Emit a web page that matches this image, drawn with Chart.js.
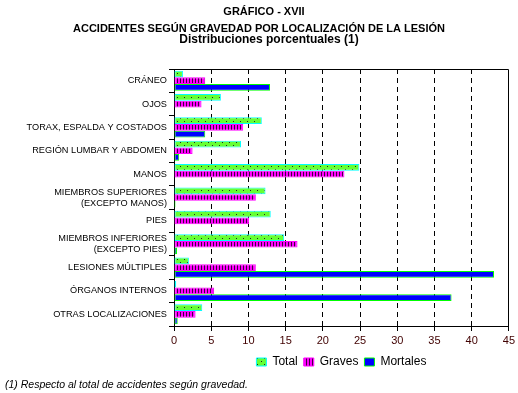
<!DOCTYPE html>
<html>
<head>
<meta charset="utf-8">
<script src="https://cdn.jsdelivr.net/npm/chart.js@4/dist/chart.umd.min.js"></script>
<style>
  html, body { margin: 0; padding: 0; background: #fff; }
  #wrap { width: 518px; height: 393px; }
</style>
</head>
<body>
<div id="wrap"><canvas id="chart" width="518" height="393"></canvas></div>
<script>
// --- data ---
const categories = [
  'CRÁNEO',
  'OJOS',
  'TORAX, ESPALDA Y COSTADOS',
  'REGIÓN LUMBAR Y ABDOMEN',
  'MANOS',
  ['MIEMBROS SUPERIORES', '(EXCEPTO MANOS)'],
  'PIES',
  ['MIEMBROS INFERIORES', '(EXCEPTO PIES)'],
  'LESIONES MÚLTIPLES',
  'ÓRGANOS INTERNOS',
  'OTRAS LOCALIZACIONES'
];
const totalValues    = [1.2, 6.3, 11.8, 9.0, 24.9, 12.3, 13.0, 14.8, 2.0, 0.3, 3.8];
const gravesValues   = [4.2, 3.7, 9.3, 2.5, 22.9, 11.0, 10.1, 16.6, 11.0, 5.4, 2.9];
const mortalesValues = [12.9, 0, 4.2, 0.7, 0, 0.2, 0, 0.4, 43.0, 37.3, 0.5];
const seriesNames = ['Total', 'Graves', 'Mortales'];
const xTicks = [0, 5, 10, 15, 20, 25, 30, 35, 40, 45];

const titleLines = [
  'GRÁFICO - XVII',
  'ACCIDENTES SEGÚN GRAVEDAD POR LOCALIZACIÓN DE LA LESIÓN',
  'Distribuciones porcentuales (1)'
];
const footnote = '(1) Respecto al total de accidentes según gravedad.';

const sans = "Arial, 'Liberation Sans', sans-serif";

// small fill patterns like the old chart hatches
function makePattern(w, h, draw) {
  const c = document.createElement('canvas');
  c.width = w; c.height = h;
  const g = c.getContext('2d');
  draw(g, w, h);
  return g.createPattern(c, 'repeat');
}
const dotted = makePattern(7, 6, (g, w, h) => {
  g.fillStyle = '#66ff33'; g.fillRect(0, 0, w, h);
  g.fillStyle = '#222'; g.fillRect(2, 1, 1, 1); g.fillRect(5, 4, 1, 1);
});
const hatched = makePattern(3, 6, (g, w, h) => {
  g.fillStyle = '#ff00ff'; g.fillRect(0, 0, w, h);
  g.fillStyle = '#400040'; g.fillRect(0, 0, 1, h);
});

// frame (top / right), titles and footnote
const extras = {
  id: 'extras',
  afterDraw(chart) {
    const { ctx, chartArea: a } = chart;
    ctx.save();
    ctx.strokeStyle = '#000';
    ctx.lineWidth = 1;
    const top = Math.round(a.top) + 0.5;
    const right = Math.round(a.right) - 0.5;
    ctx.beginPath();
    ctx.moveTo(a.left, top);
    ctx.lineTo(right, top);
    ctx.lineTo(right, a.bottom);
    ctx.stroke();

    ctx.fillStyle = '#000';
    ctx.textAlign = 'center';
    ctx.textBaseline = 'middle';
    ctx.font = 'bold 11px ' + sans;
    ctx.fillText(titleLines[0], 264, 12);
    ctx.fillText(titleLines[1], 259, 29);
    ctx.font = 'bold 12px ' + sans;
    ctx.fillText(titleLines[2], 269, 40);

    ctx.textAlign = 'left';
    ctx.font = 'italic 10.5px ' + sans;
    ctx.fillText(footnote, 5, 385);
    ctx.restore();
  }
};

new Chart(document.getElementById('chart'), {
  type: 'bar',
  data: {
    labels: categories,
    datasets: [
      { label: seriesNames[0], data: totalValues, backgroundColor: dotted, borderColor: '#00ffff', borderWidth: 1 },
      { label: seriesNames[1], data: gravesValues, backgroundColor: hatched, borderColor: '#ff00ff', borderWidth: 1 },
      { label: seriesNames[2], data: mortalesValues, backgroundColor: '#0000ff', borderColor: '#00ff00', borderWidth: 1 }
    ]
  },
  options: {
    indexAxis: 'y',
    responsive: false,
    animation: false,
    datasets: { bar: { categoryPercentage: 0.86, barPercentage: 1, borderSkipped: false } },
    layout: { padding: { top: 69, left: 4, right: 7, bottom: 15 } },
    plugins: {
      title: { display: false },
      tooltip: { enabled: false },
      legend: {
        position: 'bottom',
        fullSize: false,
        labels: {
          boxWidth: 10,
          boxHeight: 8,
          padding: 6,
          color: '#000',
          font: { family: sans, size: 12 }
        }
      }
    },
    scales: {
      x: {
        min: 0,
        max: 45,
        afterBuildTicks: s => { s.ticks = xTicks.map(v => ({ value: v })); },
        afterFit: s => { s.height = 24; },
        ticks: { color: '#400000', padding: 3, font: { family: sans, size: 11 } },
        grid: {
          color: c => (c.tick && (c.tick.value === 0 || c.tick.value === 45)) ? 'rgba(0,0,0,0)' : '#000',
          tickColor: '#000',
          tickLength: 5,
          lineWidth: 1
        },
        border: { color: '#000', width: 1, dash: [5, 4] }
      },
      y: {
        afterFit: s => { s.width = 170; },
        ticks: { color: '#000', padding: 2, autoSkip: false, font: { family: sans, size: 9.2 } },
        grid: { drawOnChartArea: false, tickColor: '#000', tickLength: 5 },
        border: { color: '#000', width: 1 }
      }
    }
  },
  plugins: [extras]
});
</script>
</body>
</html>
